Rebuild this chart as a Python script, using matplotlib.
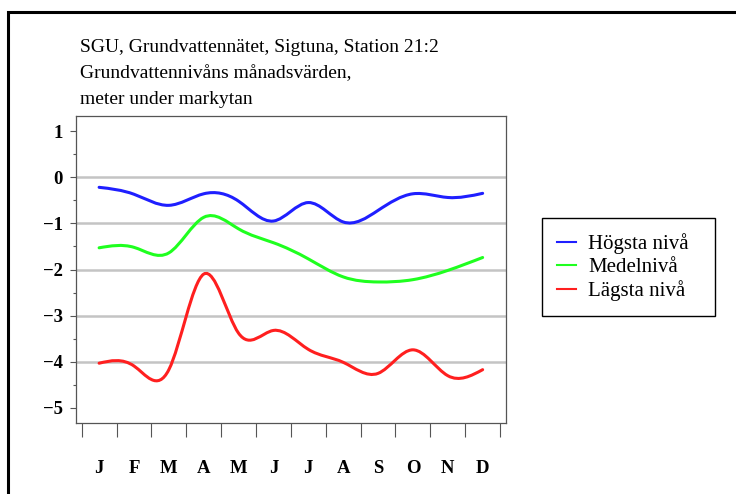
# Grundvattennivå, Sigtuna station 21:2 - månadsvärden

import numpy as np
import matplotlib
matplotlib.use('Agg')
import matplotlib.pyplot as plt
from matplotlib.path import Path
from matplotlib.patches import PathPatch, Rectangle
from matplotlib.lines import Line2D

matplotlib.rcParams['font.family'] = ['Liberation Serif', 'DejaVu Serif']
matplotlib.rcParams['axes.unicode_minus'] = True

# data (meter under markytan)
manader = ['J', 'F', 'M', 'A', 'M', 'J', 'J', 'A', 'S', 'O', 'N', 'D']
hogsta = [-0.22, -0.37, -0.61, -0.36, -0.52, -0.95, -0.55, -0.97, -0.72, -0.36, -0.44, -0.35]
medel = [-1.53, -1.52, -1.64, -0.87, -1.12, -1.42, -1.77, -2.16, -2.27, -2.22, -2.02, -1.74]
lagsta = [-4.03, -4.09, -4.17, -2.10, -3.38, -3.32, -3.73, -4.01, -4.25, -3.74, -4.30, -4.17]
serier = ['Högsta nivå', 'Medelnivå', 'Lägsta nivå']
farger = ['#1f1fff', '#1fff1f', '#ff1f1f']
y_ticks = [1, 0, -1, -2, -3, -4, -5]
grid_nivaer = [0, -1, -2, -3, -4]


def spline_path(x, y):
    # naturlig kubisk spline, ritad som bezierkurvor
    x = np.asarray(x, float)
    y = np.asarray(y, float)
    n = len(y)
    A = np.zeros((n, n))
    b = np.zeros(n)
    A[0, 0] = A[-1, -1] = 1
    for i in range(1, n - 1):
        A[i, i - 1:i + 2] = [1, 4, 1]
        b[i] = 6 * (y[i + 1] - 2 * y[i] + y[i - 1])
    M = np.linalg.solve(A, b)
    m = np.zeros(n)
    for i in range(n - 1):
        m[i] = (y[i + 1] - y[i]) - (2 * M[i] + M[i + 1]) / 6
    m[-1] = (y[-1] - y[-2]) + (M[-2] + 2 * M[-1]) / 6
    verts = [(x[0], y[0])]
    codes = [Path.MOVETO]
    for i in range(n - 1):
        verts += [(x[i] + 1 / 3, y[i] + m[i] / 3),
                  (x[i + 1] - 1 / 3, y[i + 1] - m[i + 1] / 3),
                  (x[i + 1], y[i + 1])]
        codes += [Path.CURVE4] * 3
    return Path(verts, codes)


fig = plt.figure(figsize=(7.36, 4.94), dpi=100)
ax = fig.add_axes([76 / 736, 1 - 423 / 494, 430 / 736, 307 / 494])

x = np.arange(1, 13)
for serie, farg, varden in zip(serier, farger, [hogsta, medel, lagsta]):
    ax.add_patch(PathPatch(spline_path(x, varden), fill=False, edgecolor=farg, lw=2.2,
                           capstyle='round', zorder=3))

for g in grid_nivaer:
    ax.axhline(g, color='#c4c4c4', lw=1.8, zorder=1)

ax.set_xlim(0.337, 12.67)
ax.set_ylim(-5.325, 1.325)
ax.set_yticks(y_ticks)
ax.set_yticks(np.arange(-5, 1.01, 0.5), minor=True)
ax.set_xticks(np.arange(0.5, 12.6, 1))
ax.set_xticklabels([])
ax.set_xticks(x, minor=True)
ax.set_xticklabels(manader, minor=True, fontweight='bold', fontsize=13.5)
for lab in ax.get_yticklabels():
    lab.set_fontweight('bold')
    lab.set_fontsize(13.5)

ax.tick_params(axis='y', which='major', length=4.5, width=0.8, color='#555555', pad=5)
ax.tick_params(axis='y', which='minor', length=2.5, width=0.8, color='#555555')
ax.tick_params(axis='x', which='major', length=10, width=0.8, color='#555555')
ax.tick_params(axis='x', which='minor', length=0, pad=26.5)
for sp in ax.spines.values():
    sp.set_color('#555555')
    sp.set_linewidth(0.9)

fig.text(80 / 736, 1 - 39 / 494,
         'SGU, Grundvattennätet, Sigtuna, Station 21:2\n'
         'Grundvattennivåns månadsvärden,\n'
         'meter under markytan',
         ha='left', va='top', fontsize=14, linespacing=1.68)

handles = [Line2D([], [], color=f, lw=1.5) for f in farger]
fig.legend(handles, serier, loc='upper left',
           bbox_to_anchor=(542 / 736, 1 - 218 / 494 - 0.1, 173 / 736, 0.1), mode='expand',
           fancybox=False, edgecolor='black', framealpha=1, fontsize=15,
           handlelength=0.9, handletextpad=0.6, borderpad=0.72, labelspacing=0.17,
           borderaxespad=0)

# yttre ram
fig.add_artist(Rectangle((7.5 / 736, -0.1), 1.2, 1.1 - 12.5 / 494, transform=fig.transFigure,
                         fill=False, edgecolor='black', lw=2.2, clip_on=False))

fig.savefig('out.png', dpi=100)
